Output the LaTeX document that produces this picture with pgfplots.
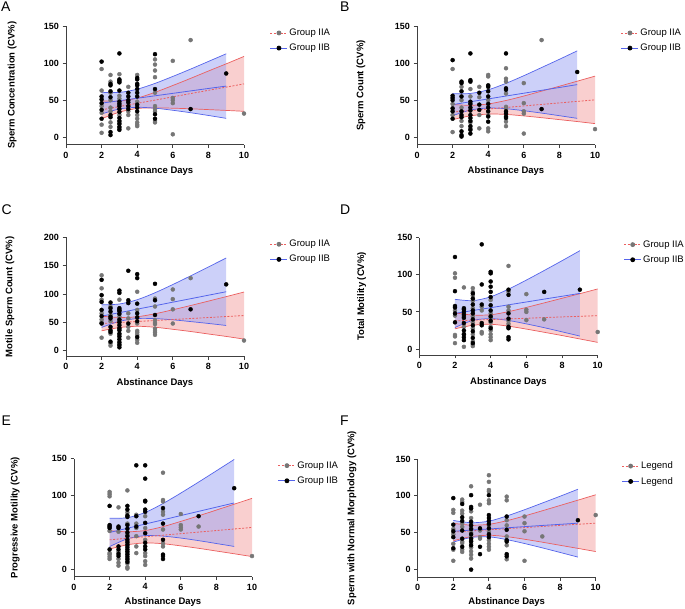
\documentclass[border=0pt]{standalone}
\usepackage{pgfplots}
\pgfplotsset{compat=1.18}
\usepackage{pgfplotstable}
\usepgfplotslibrary{fillbetween}
\usepackage{fontspec}
\setmainfont{Liberation Sans}
\definecolor{bl}{RGB}{85,100,235}
\definecolor{rd}{RGB}{235,95,95}
\definecolor{gpt}{RGB}{118,118,118}

% ---------- band tables: x lo mid hi ----------
\pgfplotstableread{
x lo mid hi
2 25 37 49
3 33.9 41.4 48.9
4 38.8 45.8 52.8
5 39.6 50.1 60.6
6 39.2 54.5 69.8
7 38.4 58.9 79.4
8 37.3 63.3 89.3
9 36.2 67.6 99
10 35 72 109
}\Ar
\pgfplotstableread{
x lo mid hi
2 31.4 46 60.6
3 38.1 49.3 60.5
4 40.4 52.6 64.8
5 39.2 55.9 72.6
6 36.4 59.2 82
7 33.1 62.5 91.9
8 29.4 65.8 102.2
9 25.5 69 112.5
}\Ab
\pgfplotstableread{
x lo mid hi
2 23.8 34 44.2
3 28.9 36 43.1
4 31.3 38.1 44.9
5 30.8 40.2 49.6
6 28.8 42.2 55.6
7 26.4 44.3 62.2
8 23.8 46.3 68.8
9 21.2 48.4 75.6
10 18.4 50.4 82.4
}\Br
\pgfplotstableread{
x lo mid hi
2 29.1 44 58.9
3 36.7 47.9 59.1
4 39.4 51.7 64
5 38.5 55.6 72.7
6 35.8 59.4 83
7 32.6 63.3 94
8 29.1 67.1 105.1
9 25.5 71 116.5
}\Bb
\pgfplotstableread{
x lo mid hi
2 35.1 48 60.9
3 40.9 49.8 58.7
4 43.1 51.5 59.9
5 41.4 53.3 65.2
6 37.8 55 72.2
7 33.9 56.8 79.7
8 29.5 58.5 87.5
9 25.2 60.3 95.4
10 20.5 62 103.5
}\Cr
\pgfplotstableread{
x lo mid hi
2 41.1 61 80.9
3 51.8 67.1 82.4
4 56.7 73.3 89.9
5 56.6 79.4 102.2
6 54.5 85.6 116.7
7 51.4 91.7 132
8 48.1 97.9 147.7
9 44.5 104 163.5
}\Cb
\pgfplotstableread{
x lo mid hi
2 27.3 38 48.7
3 32 38.9 45.8
4 33.4 39.8 46.2
5 30.8 40.6 50.4
6 26.9 41.5 56.1
7 22.6 42.4 62.2
8 18.2 43.3 68.4
9 13.6 44.1 74.6
10 9 45 81
}\Dr
\pgfplotstableread{
x lo mid hi
2 29 48 67
3 38.6 51.9 65.2
4 41 55.7 70.4
5 38.5 59.6 80.7
6 33.9 63.4 92.9
7 28.8 67.3 105.8
8 23.2 71.1 119
9 17.5 75 132.5
}\Db
\pgfplotstableread{
x lo mid hi
2 27.5 40 52.5
3 33.3 42.1 50.9
4 35.8 44.2 52.6
5 34.7 46.3 57.9
6 31.8 48.4 65
7 28.5 50.5 72.5
8 24.8 52.6 80.4
9 21.1 54.7 88.3
10 17.3 56.8 96.3
}\Er
\pgfplotstableread{
x lo mid hi
2 30.8 50 69.2
3 41.4 55.7 70
4 45.7 61.4 77.1
5 45 67.1 89.2
6 42.4 72.9 103.4
7 38.9 78.6 118.3
8 35 84.3 133.6
9 31 90 149
}\Eb
\pgfplotstableread{
x lo mid hi
2 39.2 51 62.8
3 44.7 52.5 60.3
4 46.6 54 61.4
5 44.7 55.5 66.3
6 41.2 57 72.8
7 37.2 58.5 79.8
8 33 60 87
9 28.8 61.5 94.2
10 24.5 63 101.5
}\Fr
\pgfplotstableread{
x lo mid hi
2 37.3 52 66.7
3 43.6 53.6 63.6
4 44.5 55.1 65.7
5 40.7 56.7 72.7
6 35.4 58.3 81.2
7 29.5 59.9 90.3
8 23.3 61.4 99.5
9 17 63 109
}\Fb

% #1 red table, #2 blue table
\newcommand{\bands}[2]{%
  \addplot[name path=upR, draw=none, smooth, forget plot] table[x=x,y=hi]{#1};
  \addplot[name path=loR, draw=none, smooth, forget plot] table[x=x,y=lo]{#1};
  \addplot[name path=upB, draw=none, smooth, forget plot] table[x=x,y=hi]{#2};
  \addplot[name path=loB, draw=none, smooth, forget plot] table[x=x,y=lo]{#2};
  \addplot[fill=rd!60, fill opacity=0.5, draw=none, forget plot] fill between[of=upR and loR];
  \addplot[fill=bl!60, fill opacity=0.5, draw=none, forget plot] fill between[of=upB and loB];
}
\newcommand{\blines}[2]{%
  \addplot[rd, line width=0.7pt, smooth, forget plot] table[x=x,y=hi]{#1};
  \addplot[rd, line width=0.7pt, smooth, forget plot] table[x=x,y=lo]{#1};
  \addplot[bl, line width=0.7pt, smooth, forget plot] table[x=x,y=hi]{#2};
  \addplot[bl, line width=0.7pt, smooth, forget plot] table[x=x,y=lo]{#2};
  \addplot[rd, line width=0.8pt, dash pattern=on 2pt off 1.5pt, forget plot] table[x=x,y=mid]{#1};
  \addplot[bl, line width=0.8pt, forget plot] table[x=x,y=mid]{#2};
}
\newcommand{\legA}[2]{%
  \addlegendimage{rd, line width=0.8pt, dash pattern=on 2pt off 1.5pt, mark=*, mark size=2pt, mark options={solid, fill=gpt, draw=gpt}}
  \addlegendentry{#1}
  \addlegendimage{bl, line width=0.8pt, mark=*, mark size=2pt, mark options={solid, fill=black, draw=black}}
  \addlegendentry{#2}
}

\pgfplotsset{panel/.style={
  scale only axis, width=178pt,
  xmin=0, xmax=10, xtick={0,2,4,6,8,10},
  ymin=-10, ymax=150, ytick={0,50,100,150},
  axis x line*=bottom, axis y line*=left,
  axis line style={line width=0.9pt, draw=black!75, -},
  tick style={line width=0.9pt, black!75},
  tick align=outside, major tick length=3.5pt,
  tick label style={font=\bfseries\fontsize{9}{10}\selectfont},
  /pgf/number format/assume math mode=true,
  label style={font=\bfseries\fontsize{9.5}{11}\selectfont},
  xlabel={Abstinance Days},
  clip=false,
  legend style={at={(axis description cs:1.145,0.99)}, anchor=north west, draw=none, fill=none,
    font=\fontsize{9.5}{11}\selectfont, row sep=4pt, inner sep=0pt, nodes={inner sep=1.5pt}},
  legend cell align=left,
  anchor=north west,
},
pts/.style={only marks, mark=*, mark size=2pt, forget plot}}

\begin{document}
\begin{tikzpicture}

% ---------------- A ----------------
\begin{axis}[panel, at={(66pt,-26pt)}, height=118.7pt,
  ylabel={Sperm Concentration (CV\%)},
  ylabel style={at={(axis description cs:-0.303,0.5)}, anchor=center},
  xlabel style={at={(axis description cs:0.5,-0.219)}, anchor=center}]
\bands{\Ar}{\Ab}
\addplot[pts, gpt] coordinates {(2,92) (2,63) (2,42) (2,33) (2,17) (2,6) (2.5,84) (2.5,75) (2.5,60) (2.5,50) (2.5,40) (2.5,35) (2.5,20) (2.5,14) (3,85) (3,56) (3,52) (3,30) (3,20) (3,12) (3.5,68) (3.5,35) (3.5,30) (3.5,12) (4,84) (4,48) (4,30) (4,25) (4,20) (4,17) (4,15) (5,105) (5,98) (5,90) (5,81) (5,60) (5,42) (5,38) (5,35) (5,22) (5,20) (6,103) (6,53) (6,50) (6,46) (6,4) (7,131) (10,32)};
\addplot[pts, black] coordinates {(2,102) (2,55) (2,51) (2,46) (2,37) (2,25) (2.5,72) (2.5,70) (2.5,62) (2.5,54) (2.5,30) (2.5,27) (2.5,7) (2.5,3) (3,113) (3,78) (3,76) (3,74) (3,63) (3,48) (3,45) (3,42) (3,38) (3,34) (3,26) (3,22) (3,18) (3,14) (3,10) (3.5,60) (3.5,55) (3.5,50) (3.5,47) (3.5,42) (3.5,38) (4,80) (4,78) (4,72) (4,70) (4,65) (4,60) (4,55) (4,44) (4,40) (4,35) (5,112) (5,65) (5,31) (5,25) (7,38) (9,86)};
\blines{\Ar}{\Ab}
\legA{Group IIA}{Group IIB}
\end{axis}

% ---------------- B ----------------
\begin{axis}[panel, at={(417pt,-26pt)}, height=118.7pt,
  ylabel={Sperm Count (CV\%)},
  ylabel style={at={(axis description cs:-0.315,0.5)}, anchor=center},
  xlabel style={at={(axis description cs:0.5,-0.219)}, anchor=center}]
\bands{\Br}{\Bb}
\addplot[pts, gpt] coordinates {(2,92) (2,45) (2,30) (2,7) (2.5,68) (2.5,50) (2.5,40) (2.5,22) (2.5,15) (3,65) (3,55) (3,20) (3,12) (3.5,68) (3.5,54) (3.5,30) (3.5,12) (4,84) (4,82) (4,50) (4,30) (4,12) (4,8) (5,93) (5,79) (5,75) (5,59) (5,41) (5,39) (5,21) (5,15) (6,73) (6,46) (6,35) (6,32) (6,5) (7,131) (10,11)};
\addplot[pts, black] coordinates {(2,104) (2,56) (2,53) (2,50) (2,39) (2,35) (2,25) (2.5,75) (2.5,73) (2.5,62) (2.5,55) (2.5,35) (2.5,30) (2.5,27) (2.5,8) (2.5,3) (2.5,1) (3,113) (3,77) (3,75) (3,48) (3,45) (3,40) (3,36) (3,30) (3,26) (3,22) (3,15) (3,10) (3,5) (3.5,60) (3.5,44) (3.5,37) (4,70) (4,68) (4,62) (4,55) (4,45) (4,40) (4,35) (4,28) (4,21) (5,113) (5,66) (5,64) (5,35) (5,32) (5,28) (5,26) (7,38) (9,88)};
\blines{\Br}{\Bb}
\legA{Group IIA}{Group IIB}
\end{axis}

% ---------------- C ----------------
\begin{axis}[panel, at={(66pt,-237.3pt)}, height=119.1pt, ymax=200, ytick={0,50,100,150,200},
  ylabel={Motile Sperm Count (CV\%)},
  ylabel style={at={(axis description cs:-0.315,0.5)}, anchor=center},
  xlabel style={at={(axis description cs:0.5,-0.224)}, anchor=center}]
\bands{\Cr}{\Cb}
\addplot[pts, gpt] coordinates {(2,133) (2,110) (2,90) (2,66) (2,55) (2,50) (2,23) (2.5,78) (2.5,63) (2.5,52) (2.5,30) (2.5,13) (2.5,9) (3,90) (3,60) (3,52) (3,38) (3,28) (3,12) (3.5,66) (3.5,57) (3.5,42) (3.5,35) (3.5,23) (4,104) (4,72) (4,48) (4,35) (4,32) (4,28) (4,19) (4,14) (5,92) (5,78) (5,54) (5,49) (5,47) (5,39) (5,35) (5,32) (5,28) (6,108) (6,91) (6,73) (6,48) (7,128) (10,18)};
\addplot[pts, black] coordinates {(2,125) (2,98) (2,86) (2,72) (2,61) (2,48) (2.5,85) (2.5,75) (2.5,69) (2.5,60) (2.5,57) (2.5,42) (2.5,36) (2.5,33) (2.5,16) (3,106) (3,102) (3,75) (3,72) (3,70) (3,65) (3,55) (3,50) (3,45) (3,40) (3,36) (3,30) (3,25) (3,20) (3,15) (3,10) (3,6) (3.5,141) (3.5,89) (3.5,84) (3.5,48) (4,135) (4,128) (4,83) (4,66) (4,59) (4,52) (4,24) (5,118) (5,89) (5,63) (7,73) (9,117)};
\blines{\Cr}{\Cb}
\legA{Group IIA}{Group IIB}
\end{axis}

% ---------------- D ----------------
\begin{axis}[panel, at={(419.3pt,-237.7pt)}, width=178.4pt, height=117.3pt, ymin=-8,
  ylabel={Total Motility (CV\%)},
  ylabel style={at={(axis description cs:-0.323,0.5)}, anchor=center},
  xlabel style={at={(axis description cs:0.5,-0.228)}, anchor=center}]
\bands{\Dr}{\Db}
\addplot[pts, gpt] coordinates {(2,102) (2,96) (2,52) (2,45) (2,19) (2,17) (2,8) (2.5,83) (2.5,48) (2.5,44) (2.5,30) (2.5,20) (2.5,3) (3,82) (3,77) (3,72) (3,65) (3,55) (3,44) (3,36) (3,28) (3,20) (3,10) (3,6) (3,4) (3.5,57) (3.5,52) (3.5,23) (3.5,21) (4,66) (4,48) (4,42) (4,36) (4,30) (4,25) (4,20) (4,16) (4,12) (5,112) (5,77) (5,57) (5,52) (5,38) (5,34) (6,74) (6,53) (6,50) (6,39) (7,40) (10,23)};
\addplot[pts, black] coordinates {(2,124) (2,78) (2,58) (2,56) (2,48) (2,36) (2.5,55) (2.5,53) (2.5,50) (2.5,46) (2.5,42) (2.5,35) (2.5,25) (2.5,20) (2.5,16) (2.5,12) (3,75) (3,68) (3,60) (3,52) (3,48) (3,40) (3,32) (3,24) (3,15) (3,8) (3.5,141) (3.5,87) (3.5,60) (3.5,35) (3.5,32) (4,104) (4,102) (4,91) (4,84) (4,77) (4,70) (4,59) (4,52) (4,44) (4,38) (4,28) (5,80) (5,73) (5,48) (5,41) (5,30) (5,28) (5,16) (5,13) (7,77) (9,80)};
\blines{\Dr}{\Db}
\legA{Group IIA}{Group IIB}
\end{axis}

% ---------------- E ----------------
\begin{axis}[panel, at={(74pt,-458.7pt)}, height=118pt,
  ylabel={Progressive Motility (CV\%)},
  ylabel style={at={(axis description cs:-0.331,0.5)}, anchor=center},
  xlabel style={at={(axis description cs:0.5,-0.212)}, anchor=center}]
\bands{\Er}{\Eb}
\addplot[pts, gpt] coordinates {(2,105) (2,102) (2,99) (2,52) (2,22) (2,20) (2,17) (2,14) (2.5,84) (2.5,51) (2.5,24) (2.5,14) (2.5,9) (2.5,5) (3,107) (3,77) (3,62) (3,47) (3,35) (3,22) (3,12) (3,8) (3,3) (3,1) (3.5,74) (3.5,62) (3.5,56) (3.5,45) (3.5,31) (3.5,22) (4,72) (4,56) (4,40) (4,22) (4,18) (4,11) (4,6) (5,131) (5,94) (5,92) (5,78) (5,74) (5,54) (5,35) (5,31) (6,75) (6,60) (6,57) (6,54) (7,58) (10,18)};
\addplot[pts, black] coordinates {(2,86) (2,60) (2,58) (2,56) (2,27) (2.5,58) (2.5,56) (2.5,31) (2.5,27) (2.5,21) (2.5,18) (3,86) (3,81) (3,73) (3,71) (3,60) (3,55) (3,50) (3,45) (3,40) (3,37) (3,33) (3,30) (3,27) (3,24) (3,20) (3,17) (3,14) (3,10) (3.5,141) (3.5,72) (3.5,58) (4,141) (4,123) (4,93) (4,92) (4,81) (4,78) (4,63) (4,49) (4,36) (4,31) (4,27) (5,83) (5,62) (5,40) (5,20) (5,18) (5,14) (7,72) (9,110)};
\blines{\Er}{\Eb}
\legA{Group IIA}{Group IIB}
\end{axis}

% ---------------- F ----------------
\begin{axis}[panel, at={(417.7pt,-459pt)}, height=118pt,
  ylabel={Sperm with Normal Morphology (CV\%)},
  ylabel style={at={(axis description cs:-0.37,0.5)}, anchor=center},
  xlabel style={at={(axis description cs:0.5,-0.212)}, anchor=center}]
\bands{\Fr}{\Fb}
\addplot[pts, gpt] coordinates {(2,81) (2,77) (2,55) (2,48) (2,35) (2,27) (2,12) (2.5,95) (2.5,92) (2.5,80) (2.5,76) (2.5,63) (2.5,58) (2.5,38) (2.5,36) (2.5,27) (2.5,24) (3,113) (3,79) (3,70) (3,62) (3,56) (3,50) (3,45) (3,40) (3,35) (3,30) (3,25) (3,20) (3,15) (3.5,88) (3.5,53) (3.5,44) (3.5,42) (4,128) (4,119) (4,108) (4,106) (4,94) (4,90) (4,60) (4,52) (4,40) (4,35) (4,31) (4,27) (5,99) (5,94) (5,67) (5,60) (5,45) (5,33) (5,14) (6,72) (6,63) (6,52) (6,12) (7,45) (10,74)};
\addplot[pts, black] coordinates {(2,97) (2,61) (2,52) (2,44) (2,29) (2.5,89) (2.5,71) (2.5,66) (2.5,53) (2.5,42) (2.5,31) (3,101) (3,85) (3,83) (3,65) (3,60) (3,55) (3,48) (3,42) (3,38) (3,33) (3,0) (3.5,56) (3.5,31) (3.5,21) (4,101) (4,74) (4,70) (4,66) (4,62) (4,56) (4,48) (4,44) (5,72) (5,54) (5,40) (5,38) (5,21) (5,18) (9,67)};
\blines{\Fr}{\Fb}
\legA{Legend}{Legend}
\end{axis}

% panel letters
\begin{scope}[every node/.style={anchor=base west, inner sep=0pt, font=\fontsize{14}{14}\selectfont}]
\node at (1pt,-11.7pt) {A};
\node at (340pt,-11.7pt) {B};
\node at (1.5pt,-215pt) {C};
\node at (340pt,-215pt) {D};
\node at (1.5pt,-425pt) {E};
\node at (340pt,-425pt) {F};
\end{scope}
\pgfresetboundingbox
\path[use as bounding box] (0,0) rectangle (685pt,-609pt);
\end{tikzpicture}
\end{document}
